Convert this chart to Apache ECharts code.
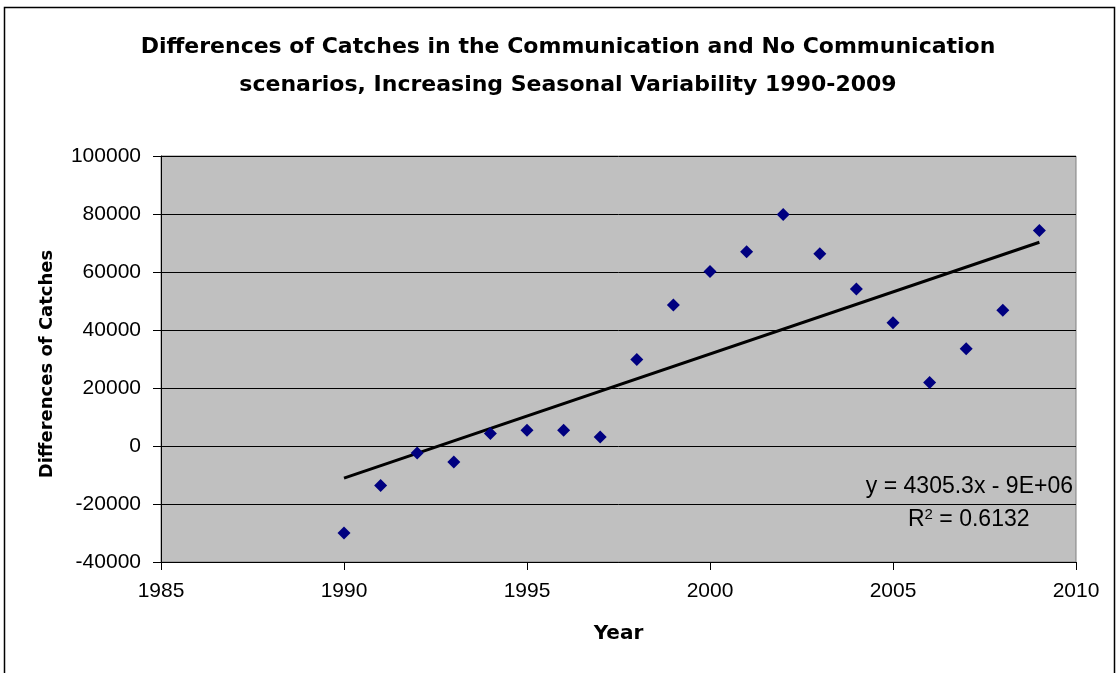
<!DOCTYPE html>
<html><head><meta charset="utf-8">
<script src="https://cdn.jsdelivr.net/npm/echarts@6/dist/echarts.min.js"></script>
<style>html,body{margin:0;padding:0;background:#fff}#c{width:1119px;height:673px}</style>
</head><body><div id="c"></div>
<script>
const years = [1990,1991,1992,1993,1994,1995,1996,1997,1998,1999,2000,2001,2002,2003,2004,2005,2006,2007,2008,2009];
const diffs = [-30000,-13600,-2400,-5500,4300,5400,5400,3100,29800,48600,60200,67000,79800,66300,54100,42500,21900,33500,46800,74300];
const xTicks = [1985,1990,1995,2000,2005,2010];
const yTicks = [-40000,-20000,0,20000,40000,60000,80000,100000];
const titleLines = ['Differences of Catches in the Communication and No Communication','scenarios, Increasing Seasonal Variability 1990-2009'];
const eqText = 'y = 4305.3x - 9E+06';
const r2Value = '0.6132';

// least squares trend from the data
const n = years.length;
const mx = years.reduce((a,b)=>a+b,0)/n, my = diffs.reduce((a,b)=>a+b,0)/n;
let sxy=0,sxx=0; for(let i=0;i<n;i++){sxy+=(years[i]-mx)*(diffs[i]-my);sxx+=(years[i]-mx)**2;}
const slope=sxy/sxx, icpt=my-slope*mx;
const trend=[[years[0],icpt+slope*years[0]],[years[n-1],icpt+slope*years[n-1]]];

const chart = echarts.init(document.getElementById('c'));
const font = 'Liberation Sans, Arial, sans-serif';
const bold = 'DejaVu Sans, Verdana, sans-serif';
chart.setOption({
  animation:false,
  backgroundColor:'#fff',
  title:{text:titleLines.join('\n'),left:563,textAlign:'center',top:23,
    textStyle:{fontFamily:bold,fontSize:22,fontWeight:'bold',color:'#000',lineHeight:38}},
  grid:{left:161,right:43,top:156,bottom:111,show:true,backgroundColor:'#c0c0c0',borderColor:'#808080',borderWidth:1},
  xAxis:{type:'value',min:xTicks[0],max:xTicks[xTicks.length-1],interval:5,
    name:'Year',nameLocation:'middle',nameGap:62,
    nameTextStyle:{fontFamily:bold,fontSize:20,fontWeight:'bold',color:'#000'},
    axisLine:{show:true,onZero:false,lineStyle:{color:'#000',width:1}},
    axisTick:{show:true,length:8,lineStyle:{color:'#000'}},
    axisLabel:{fontFamily:font,fontSize:21,color:'#000',margin:19,formatter:v=>String(v)},
    splitLine:{show:false}},
  yAxis:{type:'value',min:yTicks[0],max:yTicks[yTicks.length-1],interval:20000,
    name:'Differences of Catches',nameLocation:'middle',nameGap:105,
    nameTextStyle:{fontFamily:bold,fontSize:18,fontWeight:'bold',color:'#000',padding:[0,10,0,0]},
    axisLine:{show:true,onZero:false,lineStyle:{color:'#000',width:1}},
    axisTick:{show:true,length:8,lineStyle:{color:'#000'}},
    axisLabel:{fontFamily:font,fontSize:21,color:'#000',margin:20,formatter:v=>String(v)},
    splitLine:{show:true,lineStyle:{color:'#000',width:1}}},
  series:[
    {type:'scatter',data:years.map((y,i)=>[y,diffs[i]]),symbol:'diamond',symbolSize:[13,13],
      itemStyle:{color:'#000080',opacity:1},z:3},
    {type:'line',data:trend,symbol:'none',lineStyle:{color:'#000',width:3},z:2}
  ],
  graphic:[
    {type:'rect',shape:{x:4.5,y:7.5,width:1110,height:680},style:{fill:'none',stroke:'#000',lineWidth:1.5},silent:true,z:-1},
    {type:'text',right:46,top:475,z:10,style:{text:eqText,fontFamily:font,fontSize:23,fill:'#000'}},
    {type:'text',left:908,top:507,z:10,style:{text:'R{sup|2} = '+r2Value,fontFamily:font,fontSize:23,fill:'#000',
      rich:{sup:{fontSize:15,verticalAlign:'top',padding:[0,0,10,0],fontFamily:font}}}}
  ]
});
</script></body></html>
